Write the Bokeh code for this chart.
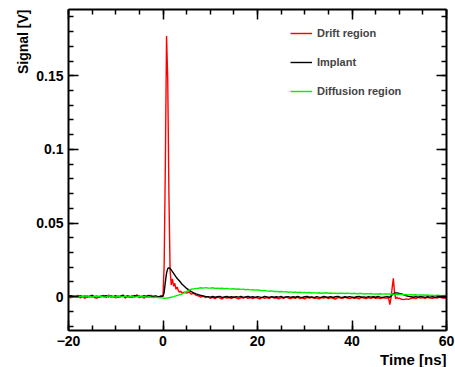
import numpy as np
from bokeh.plotting import figure
from bokeh.models import (Range1d, FixedTicker, LinearAxis, Legend,
                          LegendItem, Title, CustomJSTickFormatter)
from bokeh.embed import file_html
from bokeh.resources import INLINE

# Sampling grid (ns): coarse on the baselines, finer around the pulses
time_ns = np.concatenate([
    np.arange(-20.0, 0.0, 0.5),     # 40 samples
    np.arange(0.0, 4.01, 0.25),     # 17 samples
    np.arange(4.5, 47.51, 0.5),     # 87 samples
    np.arange(47.75, 50.01, 0.25),  # 10 samples
    np.arange(50.5, 60.01, 0.5),    # 20 samples
])

# Signals in mV
drift_mv = [
    0.3, -0.8, 0.5, -0.4, 1.0, -0.9, 0.2, -1.2, 0.6, -0.3,
    0.9, -0.6, -1.1, 0.4, -0.2, 0.8, -0.7, 1.2, -0.5, 0.1,
    -0.9, 0.6, -0.3, 1.1, -1.0, 0.3, -0.6, 0.7, -0.2, 1.3,
    -0.8, 0.4, -1.1, 0.5, -0.4, 0.9, -0.7, 0.2, -0.5, 0.6,
    0.4, 22.0, 90.0, 177.0, 148.0, 70.0, 18.0, 8.0, 12.0, 7.0,
    9.0, 5.0, 6.5, 4.0, 3.0, 3.8, 2.6,
    3.0, 2.4, 3.3, 1.7, 2.3, 0.9, 0.5, -0.4, 0.3, -0.7,
    -0.2, -1.1, -0.5, -1.4, -0.3, -0.9, -1.6, -0.4, -1.0, -0.6,
    -1.3, -0.2, -0.8, -1.5, -0.6, -1.0, -0.3, -1.2, -0.7, -1.4,
    -0.5, -0.9, -1.6, -0.4, -1.1, -0.7, -1.3, -0.2, -1.0, -0.8,
    -1.5, -0.6, -1.2, -0.3, -0.9, -1.4, -0.7, -1.1, -0.4, -1.3,
    -0.8, -1.6, -0.5, -1.0, -0.3, -1.2, -0.9, -1.5, -0.6, -1.0,
    -0.4, -1.3, -0.7, -1.1, -1.7, -0.5, -0.9, -1.2, -0.3, -1.0,
    -1.4, -0.6, -1.1, -0.8, -1.5, -0.4, -1.0, -1.3, -0.7, -1.2,
    -0.5, -1.1, -0.8, -1.4, -0.6, -1.0, -0.9,
    -0.8, -5.5, -1.0, 6.0, 12.5, 3.0, -1.5, -0.3, -1.4, -1.0,
    -1.8, -2.0, -1.5, -1.9, -1.2, -0.8, -1.3, -0.5, -1.0, -0.7,
    -1.2, -0.4, -0.9, -1.1, -0.6, -1.0, -0.3, -0.8, -1.1, -0.6,
]

implant_mv = [
    0.2, 0.6, -0.2, 0.4, -0.4, 0.7, 0.0, 0.5, -0.3, 0.3,
    0.8, -0.1, 0.4, -0.5, 0.6, 0.1, 0.7, -0.2, 0.5, 0.0,
    0.6, -0.4, 0.3, 0.8, -0.1, 0.5, 0.2, -0.3, 0.7, 0.1,
    0.4, -0.2, 0.6, 0.0, 0.8, -0.1, 0.3, 0.5, -0.2, 0.2,
    0.2, 3.0, 10.0, 16.0, 19.0, 19.6, 19.2, 18.2, 17.0, 15.8,
    14.6, 13.4, 12.3, 11.5, 10.6, 9.6, 8.6,
    7.1, 5.6, 4.4, 3.4, 2.6, 1.9, 1.3, 0.9, 0.5, 0.2,
    0.0, -0.3, 0.1, -0.4, -0.1, 0.2, -0.5, -0.2, 0.1, -0.4,
    -0.1, -0.6, 0.0, -0.3, 0.2, -0.5, -0.2, 0.1, -0.4, -0.1,
    -0.6, 0.0, -0.3, -0.7, 0.1, -0.2, -0.5, 0.0, -0.4, -0.1,
    -0.3, 0.2, -0.6, -0.2, 0.0, -0.5, -0.1, -0.4, 0.1, -0.3,
    -0.6, -0.1, 0.1, -0.4, -0.2, -0.7, 0.0, -0.3, -0.5, 0.1,
    -0.2, -0.4, 0.0, -0.6, -0.1, 0.2, -0.3, -0.5, -0.1, -0.4,
    0.0, -0.3, -0.6, -0.1, 0.1, -0.4, -0.2, -0.5, 0.0, -0.3,
    -0.1, -0.4, 0.1, -0.3, -0.6, -0.2, 0.0,
    -0.2, -0.5, 0.3, 1.2, 2.0, 2.4, 2.5, 2.5, 2.4, 2.2,
    1.8, 1.2, 0.6, 0.2, -0.1, -0.4, 0.0, -0.3, 0.1, -0.2,
    -0.5, -0.1, -0.3, 0.0, -0.4, -0.2, 0.1, -0.3, -0.1, -0.2,
]

diffusion_mv = [
    0.1, -0.3, 0.4, 0.0, -0.4, 0.3, -0.1, 0.5, -0.2, 0.2,
    -0.4, 0.1, 0.4, -0.2, 0.3, -0.3, 0.0, 0.5, -0.1, 0.2,
    -0.3, 0.4, 0.0, -0.2, 0.3, -0.4, 0.1, 0.2, -0.3, 0.0,
    0.3, -0.2, 0.1, -0.4, 0.0, -0.3, -0.5, -0.4, -0.7, -0.8,
    -1.0, -1.1, -1.1, -1.0, -0.9, -0.8, -0.6, -0.4, -0.2, 0.0,
    0.3, 0.5, 0.8, 1.0, 1.3, 1.5, 1.8,
    2.5, 3.4, 4.4, 5.0, 5.3, 5.6, 5.7, 6.0, 5.8, 6.1,
    5.9, 5.8, 6.0, 5.6, 5.8, 5.5, 5.7, 5.4, 5.6, 5.3,
    5.2, 5.4, 5.0, 5.2, 4.9, 5.0, 4.7, 4.9, 4.6, 4.7,
    4.4, 4.6, 4.3, 4.1, 4.2, 3.9, 3.7, 3.9, 3.5, 3.6,
    3.3, 3.5, 3.2, 3.4, 3.0, 3.2, 2.9, 3.1, 2.8, 3.0,
    2.7, 2.9, 2.6, 2.8, 2.5, 2.7, 2.4, 2.6, 2.3, 2.5,
    2.6, 2.3, 2.5, 2.2, 2.4, 2.1, 2.3, 2.4, 2.1, 2.3,
    2.2, 2.0, 2.3, 1.9, 2.1, 2.2, 1.8, 2.0, 1.9, 2.1,
    1.7, 1.9, 1.8, 2.0, 1.7, 1.8, 1.9,
    1.7, 1.8, 1.6, 1.8, 1.7, 1.5, 1.7, 1.6, 1.4, 1.6,
    1.5, 1.3, 1.4, 1.2, 1.4, 1.1, 1.3, 1.0, 1.2, 1.1,
    0.9, 1.1, 0.8, 1.0, 0.7, 0.9, 0.8, 0.6, 0.8, 0.7,
]

series_names = ["Drift region", "Implant", "Diffusion region"]
series_colors = ["#ff0000", "#000000", "#00ee00"]

x_major = [-20, 0, 20, 40, 60]
x_minor = list(range(-20, 61, 5))
y_major = [0.0, 0.05, 0.1, 0.15]
y_minor = [round(-0.02 + 0.01 * i, 2) for i in range(22)]

FONT = "Liberation Sans"

p = figure(width=455, height=367,
           x_range=Range1d(-20, 60), y_range=Range1d(-0.023, 0.195),
           output_backend="svg", toolbar_location=None,
           min_border_left=68, min_border_right=9,
           min_border_top=9, min_border_bottom=36)
p.grid.visible = False
p.outline_line_color = None
p.background_fill_color = "white"
p.border_fill_color = "white"

renderers = []
for vals, col in zip([drift_mv, implant_mv, diffusion_mv], series_colors):
    r = p.line(time_ns, np.array(vals) / 1000.0, line_color=col, line_width=1.4)
    renderers.append(r)


def style_axis(ax, ticks, minor, show_labels):
    ax.ticker = FixedTicker(ticks=ticks, minor_ticks=minor)
    ax.axis_line_width = 2
    ax.axis_line_color = "black"
    ax.major_tick_line_width = 1.5
    ax.minor_tick_line_width = 1.5
    ax.major_tick_in = 10
    ax.major_tick_out = 0
    ax.minor_tick_in = 5
    ax.minor_tick_out = 0
    if show_labels:
        ax.major_label_text_font = FONT
        ax.major_label_text_font_style = "bold"
        ax.major_label_text_font_size = "14px"
        ax.major_label_text_color = "black"
    else:
        # frame side: ticks only
        ax.formatter = CustomJSTickFormatter(code="return ''")
        ax.major_label_standoff = 0


style_axis(p.xaxis[0], x_major, x_minor, True)
p.xaxis[0].major_label_standoff = 5
p.xaxis[0].major_label_overrides = {-20: "\u221220"}
style_axis(p.yaxis[0], y_major, y_minor, True)
p.yaxis[0].major_label_standoff = 5
p.yaxis[0].major_label_overrides = {0.0: "0", 0.05: "0.05", 0.1: "0.1", 0.15: "0.15"}

top_ax = LinearAxis()
style_axis(top_ax, x_major, x_minor, False)
p.add_layout(top_ax, "above")
right_ax = LinearAxis()
style_axis(right_ax, y_major, y_minor, False)
p.add_layout(right_ax, "right")

# Axis titles, ROOT style (placed at the far end of each axis)
p.add_layout(Title(text="Signal [V]", align="right", text_font=FONT,
                   text_font_style="bold", text_font_size="14px",
                   text_color="black", standoff=5), "left")
p.add_layout(Title(text="Time [ns]", align="right", text_font=FONT,
                   text_font_style="bold", text_font_size="15px",
                   text_line_height=0.8,
                   text_color="black", standoff=0), "below")

legend = Legend(items=[LegendItem(label=n, renderers=[r])
                       for n, r in zip(series_names, renderers)],
                location=(222, 229), border_line_color=None,
                background_fill_alpha=0, padding=0, margin=0, spacing=9,
                glyph_width=22, glyph_height=20, label_height=20,
                label_standoff=5, label_text_font=FONT,
                label_text_font_style="bold", label_text_font_size="11px")
p.add_layout(legend)

open("out.html", "w").write(file_html(p, INLINE))
